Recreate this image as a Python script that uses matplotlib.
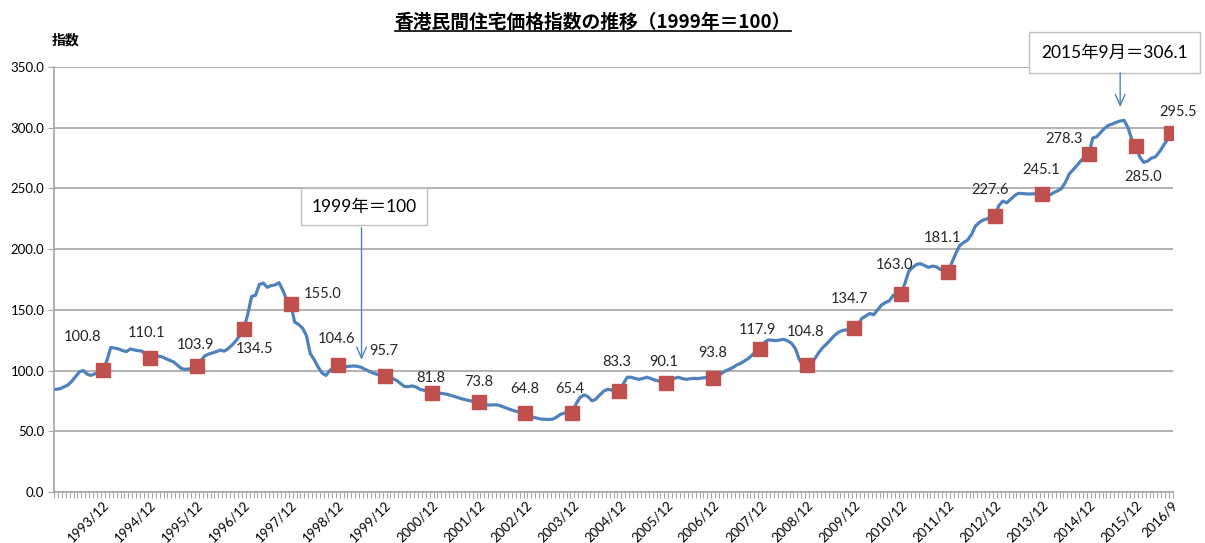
import numpy as np
import pandas as pd
import matplotlib
matplotlib.use("Agg")
import matplotlib.pyplot as plt
from matplotlib.lines import Line2D

plt.rcParams['font.family'] = ['Lato', 'Noto Sans CJK JP', 'DejaVu Sans']

# monthly index, 1992/12 .. 2016/9
y1992 = [84.6]
y1993 = [85.0, 86.5, 88.0, 91.0, 95.0, 99.0, 100.0, 97.0, 96.0, 97.5, 98.0, 100.8]
y1994 = [108.0, 119.0, 118.5, 117.8, 116.5, 115.6, 117.8, 117.0, 116.4, 116.0, 113.0, 110.1]
y1995 = [111.5, 112.0, 111.4, 110.0, 108.5, 107.3, 104.5, 101.8, 101.0, 101.3, 102.5, 103.9]
y1996 = [108.0, 112.0, 113.6, 114.5, 115.6, 116.9, 116.0, 118.0, 121.0, 124.5, 129.0, 134.5]
y1997 = [146.0, 161.0, 162.0, 171.0, 172.0, 168.5, 170.0, 170.5, 172.4, 166.0, 158.0, 155.0]
y1998 = [140.0, 138.0, 135.0, 129.0, 114.0, 109.0, 103.0, 98.0, 96.0, 100.0, 103.0, 104.6]
y1999 = [103.5, 103.2, 103.5, 103.8, 103.5, 102.7, 101.0, 99.5, 98.0, 97.0, 96.3, 95.7]
y2000 = [95.0, 93.5, 92.0, 89.5, 87.0, 86.7, 87.3, 86.5, 84.6, 83.8, 83.0, 81.8]
y2001 = [81.5, 81.3, 81.0, 80.4, 79.5, 78.5, 77.5, 76.5, 75.8, 75.0, 74.3, 73.8]
y2002 = [72.8, 71.8, 71.6, 71.8, 71.6, 70.5, 69.3, 68.1, 67.0, 66.1, 65.4, 64.8]
y2003 = [63.0, 61.5, 60.8, 60.0, 59.9, 59.7, 60.0, 61.8, 64.0, 65.0, 65.0, 65.4]
y2004 = [73.0, 78.0, 80.0, 78.5, 75.0, 76.5, 80.0, 83.0, 84.6, 84.0, 83.0, 83.3]
y2005 = [89.0, 94.5, 94.5, 93.5, 92.8, 93.5, 94.5, 93.5, 92.2, 91.5, 91.0, 90.1]
y2006 = [92.0, 93.5, 94.5, 93.5, 92.8, 93.2, 93.6, 93.4, 93.8, 94.2, 93.5, 93.8]
y2007 = [95.5, 97.5, 99.5, 101.0, 102.5, 104.6, 106.0, 108.0, 110.0, 113.0, 116.0, 117.9]
y2008 = [123.0, 125.2, 125.0, 124.6, 125.2, 125.7, 124.5, 122.5, 118.0, 109.0, 104.0, 104.8]
y2009 = [106.0, 110.0, 115.0, 119.0, 122.0, 125.5, 129.0, 131.5, 133.0, 133.5, 134.0, 134.7]
y2010 = [138.0, 143.0, 145.0, 147.0, 146.0, 150.0, 154.0, 156.0, 157.5, 162.0, 162.5, 163.0]
y2011 = [172.0, 182.0, 185.0, 187.5, 188.0, 186.5, 185.0, 186.0, 185.5, 183.4, 182.0, 181.1]
y2012 = [189.0, 196.6, 203.0, 205.5, 207.5, 212.0, 219.0, 222.0, 224.0, 225.0, 226.5, 227.6]
y2013 = [236.0, 239.5, 238.2, 241.0, 244.0, 246.0, 245.8, 245.5, 245.4, 245.6, 246.0, 245.1]
y2014 = [244.5, 244.6, 246.5, 248.0, 250.0, 255.0, 262.0, 265.5, 269.0, 273.0, 276.0, 278.3]
y2015 = [291.5, 292.6, 296.0, 299.5, 302.0, 303.0, 304.5, 305.5, 306.1, 300.0, 290.0, 285.0]
y2016 = [276.0, 271.5, 272.5, 275.0, 276.0, 280.0, 285.0, 290.0, 295.5]

index_vals = (y1992 + y1993 + y1994 + y1995 + y1996 + y1997 + y1998 + y1999 + y2000
              + y2001 + y2002 + y2003 + y2004 + y2005 + y2006 + y2007 + y2008 + y2009
              + y2010 + y2011 + y2012 + y2013 + y2014 + y2015 + y2016)
months = pd.period_range('1992-12', '2016-09', freq='M')

# data label offsets (pixels) for the year-end markers
label_dx = [-20, -3, -1, 11, 32, -1, -1, -1, 0, -1, -3, -3, -3, -1, -3, -2, -5, -7, -6, -5, -1, -25, 7, 7]
label_dy = [33, 25, 21, -20, 10, 26, 25, 15, 20, 24, 24, 29, 21, 25, 19, 33, 29, 29, 34, 26, 24, 15, -31, 21]

line_c = '#4f81bd'
mark_c = '#c0504d'
grid_c = '#a6a6a6'

x = np.arange(len(index_vals))
mark_idx = [i for i, p in enumerate(months) if p.month == 12 and i > 0] + [len(months) - 1]
tick_lab = [f"{months[i].year}/{months[i].month}" for i in mark_idx]

fig = plt.figure(figsize=(12.05, 5.43), dpi=100)
ax = fig.add_axes([54/1205, 1-492/543, (1173-54)/1205, (492-67)/543])

ax.plot(x, index_vals, color=line_c, lw=2.3, zorder=3)
ax.plot(x[mark_idx], np.array(index_vals)[mark_idx], 's', color=mark_c, ms=9.5, zorder=4, lw=0)

for k, i in enumerate(mark_idx):
    ax.annotate(f"{index_vals[i]:.1f}", (i, index_vals[i]), xytext=(label_dx[k], label_dy[k]),
                textcoords='offset pixels', ha='center', va='center', fontsize=10.5, color='#262626', zorder=5)

ax.set_xlim(-0.5, len(x) - 0.5)
ax.set_ylim(0, 350)
ax.set_yticks(np.arange(0, 351, 50))
ax.set_yticklabels([f"{v:.1f}" for v in np.arange(0, 351, 50)], fontsize=9.5)
ax.yaxis.grid(True, color=grid_c, lw=1.2)
ax.set_axisbelow(True)
for s in ['top', 'right']:
    ax.spines[s].set_visible(False)
ax.spines['left'].set_color(grid_c)
ax.spines['bottom'].set_color(grid_c)
ax.spines['left'].set_linewidth(1.2)
ax.spines['bottom'].set_linewidth(1.2)
ax.tick_params(axis='y', length=4, color=grid_c, pad=3)

ax.set_xticks(mark_idx)
ax.set_xticklabels(tick_lab, rotation=45, ha='right', rotation_mode='anchor', fontsize=9.5)
ax.set_xticks(np.arange(-0.5, len(x), 1), minor=True)
ax.tick_params(axis='x', which='major', length=0, pad=5)
ax.tick_params(axis='x', which='minor', length=4, color=grid_c, width=0.8)

# annotation boxes with arrows
box = dict(boxstyle='square,pad=0.6', fc='white', ec='#bfbfbf', lw=1)
box2 = dict(boxstyle='square,pad=0.7', fc='white', ec='#bfbfbf', lw=1)
arr = dict(arrowstyle='->,head_length=0.8,head_width=0.35', color=line_c, lw=1)
ax.text(78.7, 235, "1999年＝100", ha='center', va='center', fontsize=12.5, bbox=box, zorder=6)
ax.annotate('', xy=(78.1, 106.5), xytext=(78.1, 219.9), arrowprops=arr, zorder=6)
ax.text(270.5, 362, "2015年9月＝306.1", ha='center', va='center', fontsize=12.5, bbox=box2,
        zorder=6, clip_on=False)
ax.annotate('', xy=(272, 314.6), xytext=(272, 347.5), arrowprops=arr, zorder=6,
            annotation_clip=False)

fig.text(52/1205, 1-40/543, "指数", fontsize=10, fontweight='bold', ha='left', va='center',
         family=['Noto Sans CJK JP', 'DejaVu Sans'])
title = fig.text(593/1205, 1-22/543, "香港民間住宅価格指数の推移（1999年＝100）", fontsize=13.5,
                 fontweight='bold', ha='center', va='center', family=['Noto Sans CJK JP', 'DejaVu Sans'])

# underline the title
fig.canvas.draw()
bb = title.get_window_extent()
fig.add_artist(Line2D([bb.x0 / 1205, bb.x1 / 1205], [(bb.y0 + 1) / 543] * 2, color='black', lw=1.2))

fig.savefig('out.png', dpi=100)
